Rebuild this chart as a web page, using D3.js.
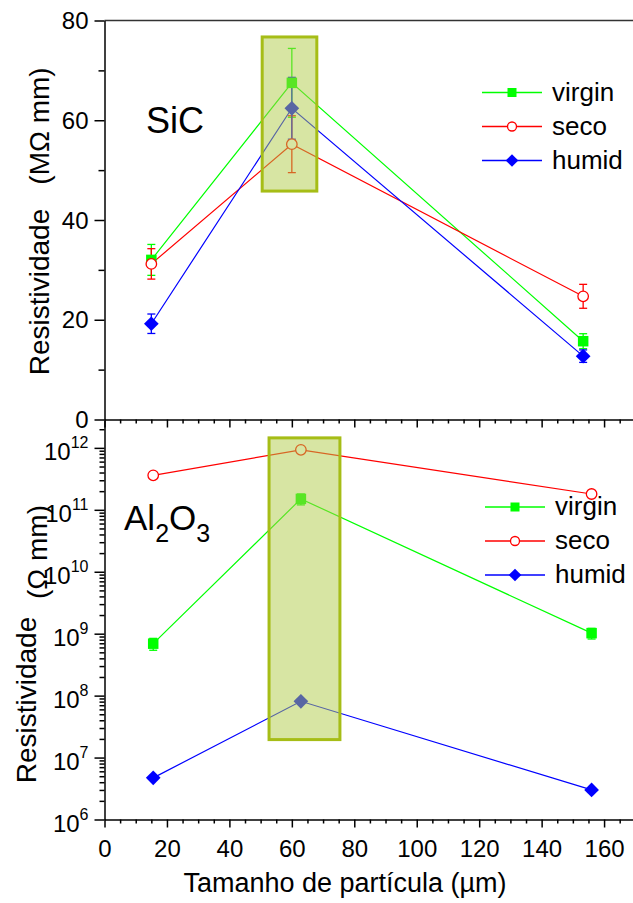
<!DOCTYPE html>
<html>
<head>
<meta charset="utf-8">
<script src="https://cdn.jsdelivr.net/npm/d3@7"></script>
<style>
body { margin: 0; background: #fff; }
svg text { font-family: "Liberation Sans", Arial, sans-serif; fill: #000; }
.axis path, .axis line { stroke: #000; stroke-width: 1.5; }
</style>
</head>
<body>
<div id="chart"></div>
<script>
var width = 633;
var height = 903;

// Particle sizes (µm) for each panel
var sizeSiC = [15, 60, 153.3];
var sizeAl = [15.6, 62.9, 156];

// SiC resistivity (MΩ mm) and error
var sicVirgin = [32.0, 67.5, 15.7];
var sicVirginErr = [3.1, 6.9, 1.5];
var sicSeco = [31.2, 55.2, 24.7];
var sicSecoErr = [3.05, 5.7, 2.4];
var sicHumid = [19.2, 62.4, 12.7];
var sicHumidErr = [1.95, 6.2, 1.25];

// Al2O3 resistivity (Ω mm) and error
var alVirgin = [6.9e8, 1.5e11, 1.02e9];
var alVirginErr = [1.5e8, 3e10, 2e8];
var alSeco = [3.6e11, 9.3e11, 1.8e11];
var alSecoErr = [2e10, 5e10, 1e10];
var alHumid = [4.7e6, 8.1e7, 3.0e6];
var alHumidErr = [3e5, 5e6, 2e5];

var seriesNames = ['virgin', 'seco', 'humid'];
var seriesColors = ['#00ff00', '#ff0000', '#0000ff'];

// Tick values
var xTicks = [0, 20, 40, 60, 80, 100, 120, 140, 160];
var sicTicks = [0, 20, 40, 60, 80];
var sicMinor = [10, 30, 50, 70];
var alTicks = [1e6, 1e7, 1e8, 1e9, 1e10, 1e11, 1e12];

// Highlight boxes (data coordinates)
var sicBoxX = [50.5, 68];
var sicBoxY = [45.8, 76.7];
var alBoxX = [52.7, 75.4];
var alBoxY = [1.95e7, 1.45e12];

var svg = d3.select('#chart').append('svg')
    .attr('width', width)
    .attr('height', height);

// Shared x scale, one y scale per panel
var x = d3.scaleLinear().domain([0, 170]).range([104.5, 635.3]);
var yTop = d3.scaleLinear().domain([0, 80]).range([419.5, 20.5]);
var yBot = d3.scaleLog().domain([1e6, Math.pow(10, 12.45)]).range([819.5, 420]);

var xMinor = x.ticks(34).filter(d => d % 20 != 0);

// ---- axes ----
function drawAxis(g, axis, noDomain) {
  g.attr('class', 'axis').call(axis);
  if (noDomain) g.select('.domain').remove();
  return g;
}

// top panel frame line
svg.append('line')
  .attr('x1', x(0)).attr('x2', x(170))
  .attr('y1', yTop(80)).attr('y2', yTop(80))
  .attr('stroke', '#333').attr('stroke-width', 1.5);

// top panel y axis
var gTopY = drawAxis(svg.append('g').attr('transform', 'translate(' + x(0) + ',0)'),
  d3.axisLeft(yTop).tickValues(sicTicks).tickSize(10).tickSizeOuter(0).tickPadding(6));
gTopY.selectAll('text').attr('font-size', 24).attr('dy', '0.34em');
drawAxis(svg.append('g').attr('transform', 'translate(' + x(0) + ',0)'),
  d3.axisLeft(yTop).tickValues(sicMinor).tickSize(6).tickFormat(''), true);

// top panel x axis (no labels, ticks down)
drawAxis(svg.append('g').attr('transform', 'translate(0,' + yTop(0) + ')'),
  d3.axisBottom(x).tickValues(xTicks).tickSize(8).tickSizeOuter(0).tickFormat(''));
drawAxis(svg.append('g').attr('transform', 'translate(0,' + yTop(0) + ')'),
  d3.axisBottom(x).tickValues(xMinor).tickSize(4).tickFormat(''), true);

// bottom panel y axis (log)
var gBotY = drawAxis(svg.append('g').attr('transform', 'translate(' + x(0) + ',0)'),
  d3.axisLeft(yBot).tickValues(alTicks).tickSize(10).tickSizeOuter(0).tickPadding(6));
gBotY.selectAll('.tick text')
  .text(null)
  .attr('font-size', 24)
  .attr('dy', '0.5em')
  .each(function(d) {
    var t = d3.select(this);
    t.append('tspan').text('10');
    t.append('tspan').attr('font-size', 16).attr('dy', '-0.75em')
      .text(Math.round(Math.log10(d)));
  });
drawAxis(svg.append('g').attr('transform', 'translate(' + x(0) + ',0)'),
  d3.axisLeft(yBot).tickValues(yBot.ticks().filter(d => alTicks.indexOf(d) < 0))
    .tickSize(5).tickFormat(''), true);

// bottom x axis
var gBotX = drawAxis(svg.append('g').attr('transform', 'translate(0,' + yBot(1e6) + ')'),
  d3.axisBottom(x).tickValues(xTicks).tickSize(8).tickSizeOuter(0).tickPadding(12));
gBotX.selectAll('text').attr('font-size', 24);
drawAxis(svg.append('g').attr('transform', 'translate(0,' + yBot(1e6) + ')'),
  d3.axisBottom(x).tickValues(xMinor).tickSize(4).tickFormat(''), true);

// ---- axis titles ----
svg.append('text')
  .attr('x', 345).attr('y', 892)
  .attr('text-anchor', 'middle').attr('font-size', 27)
  .text('Tamanho de partícula (µm)');

function yTitle(str, tx, ty) {
  svg.append('text')
    .attr('transform', 'translate(' + tx + ',' + ty + ') rotate(-90)')
    .attr('text-anchor', 'middle').attr('font-size', 28)
    .text(str);
}
yTitle('Resistividade', 49, 292);
yTitle('(MΩ mm)', 49, 126);
yTitle('Resistividade', 36, 700);
yTitle('(Ω mm)', 47, 552);

// ---- markers ----
function marker(g, kind, color, cx, cy, s) {
  if (kind == 'virgin') {
    g.append('rect')
      .attr('x', cx - s / 2).attr('y', cy - s / 2)
      .attr('width', s).attr('height', s)
      .attr('fill', color);
  } else if (kind == 'seco') {
    g.append('circle')
      .attr('cx', cx).attr('cy', cy).attr('r', s / 2)
      .attr('fill', '#fff').attr('stroke', color).attr('stroke-width', 1.3);
  } else {
    var h = s * 0.7;
    g.append('path')
      .attr('d', 'M' + cx + ',' + (cy - h) + 'L' + (cx + h) + ',' + cy +
                 'L' + cx + ',' + (cy + h) + 'L' + (cx - h) + ',' + cy + 'Z')
      .attr('fill', color);
  }
}

function drawPanel(xs, yScale, values, errors, box) {
  var g = svg.append('g');
  var line = d3.line().x((d, i) => x(xs[i])).y(d => yScale(d));

  values.forEach(function(vals, k) {
    var color = seriesColors[k];
    g.append('path')
      .datum(vals)
      .attr('d', line)
      .attr('fill', 'none')
      .attr('stroke', color)
      .attr('stroke-width', 1.2);

    // error bars
    vals.forEach(function(v, i) {
      var e = errors[k][i];
      var cx = x(xs[i]);
      var y1 = yScale(v + e), y2 = yScale(v - e);
      g.append('line').attr('x1', cx).attr('x2', cx).attr('y1', y1).attr('y2', y2)
        .attr('stroke', color).attr('stroke-width', 1.3);
      [y1, y2].forEach(function(yy) {
        g.append('line').attr('x1', cx - 4).attr('x2', cx + 4).attr('y1', yy).attr('y2', yy)
          .attr('stroke', color).attr('stroke-width', 1.3);
      });
    });
  });

  values.forEach(function(vals, k) {
    vals.forEach(function(v, i) {
      marker(g, seriesNames[k], seriesColors[k], x(xs[i]), yScale(v), 10.5);
    });
  });

  // semi-transparent highlight box on top of the data
  g.append('rect')
    .attr('x', x(box[0][0]))
    .attr('y', yScale(box[1][1]))
    .attr('width', x(box[0][1]) - x(box[0][0]))
    .attr('height', yScale(box[1][0]) - yScale(box[1][1]))
    .attr('fill', '#afcb47').attr('fill-opacity', 0.5)
    .attr('stroke', '#a6bd16').attr('stroke-width', 3);
}

drawPanel(sizeSiC, yTop,
  [sicVirgin, sicSeco, sicHumid],
  [sicVirginErr, sicSecoErr, sicHumidErr],
  [sicBoxX, sicBoxY]);

drawPanel(sizeAl, yBot,
  [alVirgin, alSeco, alHumid],
  [alVirginErr, alSecoErr, alHumidErr],
  [alBoxX, alBoxY]);

// ---- legends ----
function legend(x0, y0) {
  var g = svg.append('g');
  seriesNames.forEach(function(name, k) {
    var yy = y0 + k * 34;
    g.append('line')
      .attr('x1', x0).attr('x2', x0 + 60).attr('y1', yy).attr('y2', yy)
      .attr('stroke', seriesColors[k]).attr('stroke-width', 1.5);
    marker(g, name, seriesColors[k], x0 + 30, yy, 9);
    g.append('text')
      .attr('x', x0 + 70).attr('y', yy + 8)
      .attr('font-size', 26)
      .text(name);
  });
}
legend(482, 92.5);
legend(485, 507);

// ---- panel labels ----
svg.append('text')
  .attr('x', 146).attr('y', 133)
  .attr('font-size', 36)
  .text('SiC');

var al = svg.append('text')
  .attr('x', 124).attr('y', 530)
  .attr('font-size', 35);
al.append('tspan').text('Al');
al.append('tspan').attr('font-size', 25).attr('dy', 12).text('2');
al.append('tspan').attr('dy', -12).text('O');
al.append('tspan').attr('font-size', 25).attr('dy', 12).text('3');
</script>
</body>
</html>
